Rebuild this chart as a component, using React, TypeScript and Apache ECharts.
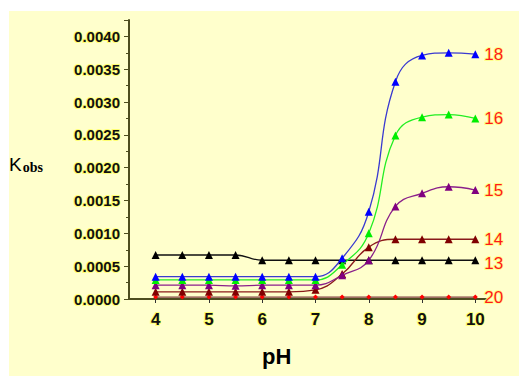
import React, { useEffect, useRef } from "react";
import * as echarts from "echarts";

const pH = [4, 4.5, 5, 5.5, 6, 6.5, 7, 7.5, 8, 8.5, 9, 9.5, 10];
const s18 = [0.00034, 0.00034, 0.00034, 0.00034, 0.00034, 0.00034, 0.00034, 0.00062, 0.00133, 0.00331, 0.00371, 0.00375, 0.00373];
const s16 = [0.00029, 0.00029, 0.00029, 0.00029, 0.00029, 0.00029, 0.00029, 0.00052, 0.001, 0.00249, 0.00277, 0.00281, 0.00275];
const s15 = [0.00021, 0.00021, 0.00021, 0.0002, 0.00021, 0.00021, 0.00021, 0.00036, 0.00059, 0.00141, 0.00161, 0.00171, 0.00166];
const s14 = [0.00011, 0.00011, 0.00011, 0.00011, 0.00011, 0.00011, 0.00014, 0.00038, 0.00079, 0.00091, 0.00091, 0.00091, 0.00091];
const s13 = [0.00067, 0.00067, 0.00067, 0.00067, 0.00059, 0.00059, 0.00059, 0.00059, 0.00059, 0.00059, 0.00059, 0.00059, 0.00059];
const s20 = [0.00003, 0.00003, 0.00003, 0.00003, 0.00003, 0.00003, 0.00003, 0.00003, 0.00003, 0.00003, 0.00003, 0.00003, 0.00003];

const seriesNames = ["18", "16", "15", "14", "13", "20"];
const seriesData = [s18, s16, s15, s14, s13, s20];
const seriesColors = ["#0000ff", "#00ee00", "#800080", "#800000", "#000000", "#ff0000"];
const lineColors = ["#3a3ad0", "#22ee22", "#8a208a", "#8a1a1a", "#111111", "#804040"];

const xTicks = [4, 5, 6, 7, 8, 9, 10];
const yTicks = [0, 0.0005, 0.001, 0.0015, 0.002, 0.0025, 0.003, 0.0035, 0.004];

export default function App() {
  const ref = useRef<HTMLDivElement>(null);
  useEffect(() => {
    const chart = echarts.init(ref.current!, null, { renderer: "svg" });
    const font = "'Liberation Sans', Arial, sans-serif";
    const glow = { textBorderColor: "rgba(255,255,90,0.8)", textBorderWidth: 2 };
    chart.setOption({
      animation: false,
      backgroundColor: "#ffffff",
      graphic: [
        { type: "rect", z: -10, shape: { x: 9, y: 11, width: 510, height: 365 }, style: { fill: "#ffffcc" } },
        {
          type: "text",
          left: 9,
          top: 155,
          style: {
            text: "{k|K}{o|obs}",
            rich: {
              k: { fontSize: 19, fontFamily: font, fill: "#000", verticalAlign: "bottom" },
              o: { fontSize: 14, fontWeight: "bold", fontFamily: "'Liberation Serif', serif", fill: "#000", verticalAlign: "bottom", padding: [0, 0, 0, 1] },
            },
          },
        },
        {
          type: "text",
          left: 262,
          top: 345,
          style: { text: "pH", fontSize: 22, fontWeight: "bold", fontFamily: font, fill: "#000" },
        },
      ],
      grid: { left: 129, right: 33, top: 20, bottom: 77, containLabel: false },
      xAxis: {
        type: "value",
        min: 3.5,
        max: 10.2,
        interval: 0.5,
        splitLine: { show: false },
        axisLine: { show: true, onZero: false, lineStyle: { color: "#4d4d1f", width: 2 } },
        axisTick: { show: true, customValues: xTicks, length: 4, lineStyle: { color: "#333" } },
        axisLabel: {
          customValues: xTicks,
          fontSize: 17,
          fontWeight: "bold",
          fontFamily: font,
          color: "#111",
          margin: 12,
          ...glow,
        },
      },
      yAxis: {
        type: "value",
        min: 0,
        max: 0.00425,
        interval: 0.0005,
        splitLine: { show: false },
        axisLine: { show: true, lineStyle: { color: "#4d4d1f", width: 2 } },
        axisTick: { show: true, length: 5, lineStyle: { color: "#4d4d1f" } },
        minorTick: { show: true, splitNumber: 2, length: 3, lineStyle: { color: "#4d4d1f" } },
        axisLabel: {
          customValues: yTicks,
          formatter: (v: number) => v.toFixed(4),
          fontSize: 15,
          fontWeight: "bold",
          fontFamily: font,
          color: "#111",
          margin: 9,
          ...glow,
        },
      },
      series: seriesNames.map((name, i) => ({
        name,
        type: "line",
        data: pH.map((x, j) => [x, seriesData[i][j]]),
        smooth: 0.45,
        symbol: name === "20" ? "diamond" : "triangle",
        symbolSize: name === "20" ? 5 : 8,
        itemStyle: { color: seriesColors[i] },
        lineStyle: { color: lineColors[i], width: 1.3 },
        z: 10 - i,
        endLabel: {
          show: true,
          formatter: name,
          color: "#ff1a1a",
          fontSize: 17,
          fontFamily: font,
          distance: 9,
          offset: name === "13" ? [0, 3] : [0, 0],
          textBorderColor: "rgba(255,255,120,0.8)",
          textBorderWidth: 2,
        },
      })),
    });
    return () => chart.dispose();
  }, []);
  return (
    <div style={{ position: "fixed", left: 0, top: 0, width: 519, height: 376 }}>
      <div ref={ref} style={{ width: 519, height: 376 }} />
    </div>
  );
}
